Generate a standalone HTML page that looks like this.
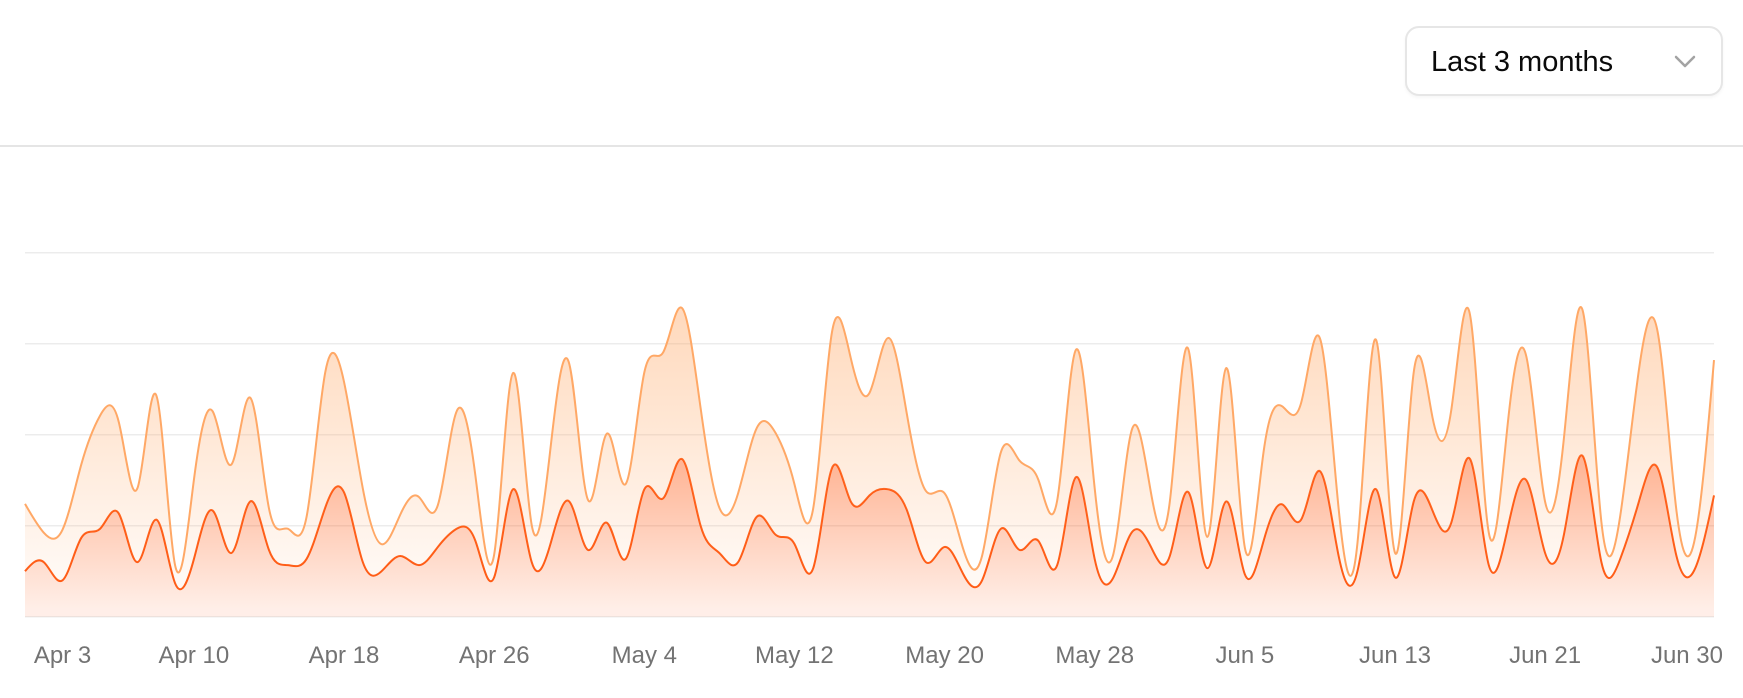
<!DOCTYPE html>
<html>
<head>
<meta charset="utf-8">
<style>
  html, body { margin:0; padding:0; background:#ffffff; }
  body { width:1743px; height:698px; position:relative; overflow:hidden; font-family:"Liberation Sans", sans-serif; }
  .hdr-line { position:absolute; left:0; top:145px; width:1743px; height:2px; background:#e5e5e5; }
  .select { position:absolute; left:1405px; top:26px; width:314px; height:66px; border:2px solid #e6e6e6; border-radius:14px; box-shadow:0 2px 3px rgba(0,0,0,0.04); background:#fff; }
  .select span { position:absolute; left:24px; top:17px; font-size:29px; line-height:34px; color:#0a0a0a; white-space:nowrap; }
  svg { position:absolute; left:0; top:0; }
</style>
</head>
<body>
<div class="hdr-line"></div>
<div class="select"><span>Last 3 months</span>
  <svg width="30" height="20" style="left:266px;top:26px;position:absolute" viewBox="0 0 30 20">
    <polyline points="3,3 12,12 21,3" fill="none" stroke="#a3a3a3" stroke-width="2.5" stroke-linecap="round" stroke-linejoin="round"/>
  </svg>
</div>
<svg id="chart" width="1743" height="698" viewBox="0 0 1743 698" style="top:0;left:0">
  <defs>
    <linearGradient id="fillDesktop" x1="0" y1="0" x2="0" y2="1">
      <stop offset="5%" stop-color="#ffa866" stop-opacity="0.42"/>
      <stop offset="95%" stop-color="#ffa866" stop-opacity="0.07"/>
    </linearGradient>
    <linearGradient id="fillMobile" x1="0" y1="0" x2="0" y2="1">
      <stop offset="5%" stop-color="#ff5a14" stop-opacity="0.45"/>
      <stop offset="95%" stop-color="#ff5a14" stop-opacity="0.1"/>
    </linearGradient>
  </defs>
  <g stroke="#ececec" stroke-width="1.5">
    <line x1="25" y1="252.7" x2="1714" y2="252.7"/>
    <line x1="25" y1="343.7" x2="1714" y2="343.7"/>
    <line x1="25" y1="434.7" x2="1714" y2="434.7"/>
    <line x1="25" y1="525.7" x2="1714" y2="525.7"/>
    <line x1="25" y1="616.7" x2="1714" y2="616.7"/>
  </g>
  <path id="mFill" fill="url(#fillMobile)" stroke="none"/>
  <path id="mLine" fill="none" stroke="#ff5a14" stroke-width="2"/>
  <path id="dFill" fill="url(#fillDesktop)" stroke="none"/>
  <path id="dLine" fill="none" stroke="#ffa866" stroke-width="2"/>
  <g font-family="Liberation Sans, sans-serif" font-size="24" fill="#737373" text-anchor="middle">
    <text x="62.5" y="663">Apr 3</text>
    <text x="193.9" y="663">Apr 10</text>
    <text x="344" y="663">Apr 18</text>
    <text x="494.2" y="663">Apr 26</text>
    <text x="644.3" y="663">May 4</text>
    <text x="794.4" y="663">May 12</text>
    <text x="944.6" y="663">May 20</text>
    <text x="1094.7" y="663">May 28</text>
    <text x="1244.9" y="663">Jun 5</text>
    <text x="1395" y="663">Jun 13</text>
    <text x="1545.1" y="663">Jun 21</text>
    <text x="1723" y="663" text-anchor="end">Jun 30</text>
  </g>
</svg>
<script>
(function(){
  var desktop=[222,97,167,242,373,301,245,409,59,261,327,292,342,137,120,138,446,364,243,89,137,224,138,387,215,75,383,122,315,454,165,293,247,385,481,498,388,149,227,293,335,197,197,448,473,338,499,315,235,177,82,81,252,294,201,213,420,233,78,340,178,178,470,103,439,88,294,323,385,438,155,92,492,81,426,307,371,475,107,341,408,169,317,480,132,141,434,448,149,103,446];
  var mobile=[150,180,120,260,290,340,180,320,110,190,350,210,380,220,170,190,360,410,180,150,200,170,230,290,250,130,420,180,240,380,220,310,190,420,390,520,300,210,180,330,270,240,160,490,380,400,420,350,180,230,140,120,290,220,250,170,460,190,130,280,230,200,410,160,380,140,250,370,320,480,200,150,420,130,380,350,310,520,170,290,450,210,270,530,180,190,380,490,200,160,400];
  var X0=25, X1=1714, Y0=616.7, Y1=252.7, MAX=1200;
  var n=desktop.length;
  function xs(i){return X0+i*(X1-X0)/(n-1);}
  function ys(v){return Y0-v*(Y0-Y1)/MAX;}
  function cp(x){
    var i, n=x.length-1, m, a=new Array(n), b=new Array(n), r=new Array(n);
    a[0]=0; b[0]=2; r[0]=x[0]+2*x[1];
    for(i=1;i<n-1;++i){a[i]=1;b[i]=4;r[i]=4*x[i]+2*x[i+1];}
    a[n-1]=2; b[n-1]=7; r[n-1]=8*x[n-1]+x[n];
    for(i=1;i<n;++i){m=a[i]/b[i-1]; b[i]-=m; r[i]-=m*r[i-1];}
    a[n-1]=r[n-1]/b[n-1];
    for(i=n-2;i>=0;--i) a[i]=(r[i]-a[i+1])/b[i];
    b[n-1]=(x[n]+a[n-1])/2;
    for(i=0;i<n-1;++i) b[i]=2*x[i+1]-a[i+1];
    return [a,b];
  }
  function f(v){return Math.round(v*100)/100;}
  function curve(X,Y,cmd){
    var d=cmd+f(X[0])+','+f(Y[0]);
    var px=cp(X), py=cp(Y);
    for(var i=0;i<X.length-1;i++){
      d+='C'+f(px[0][i])+','+f(py[0][i])+','+f(px[1][i])+','+f(py[1][i])+','+f(X[i+1])+','+f(Y[i+1]);
    }
    return d;
  }
  var X=[], Ym=[], Yt=[];
  for(var i=0;i<n;i++){X.push(xs(i)); Ym.push(ys(mobile[i])); Yt.push(ys(mobile[i]+desktop[i]));}
  var mLine=curve(X,Ym,'M');
  var dLine=curve(X,Yt,'M');
  var Xr=X.slice().reverse(), Ymr=Ym.slice().reverse();
  var mFill=mLine+'L'+f(X1)+','+Y0+'L'+f(X0)+','+Y0+'Z';
  var dFill=dLine+curve(Xr,Ymr,'L')+'Z';
  document.getElementById('mLine').setAttribute('d',mLine);
  document.getElementById('mFill').setAttribute('d',mFill);
  document.getElementById('dLine').setAttribute('d',dLine);
  document.getElementById('dFill').setAttribute('d',dFill);
})();
</script>
</body>
</html>
